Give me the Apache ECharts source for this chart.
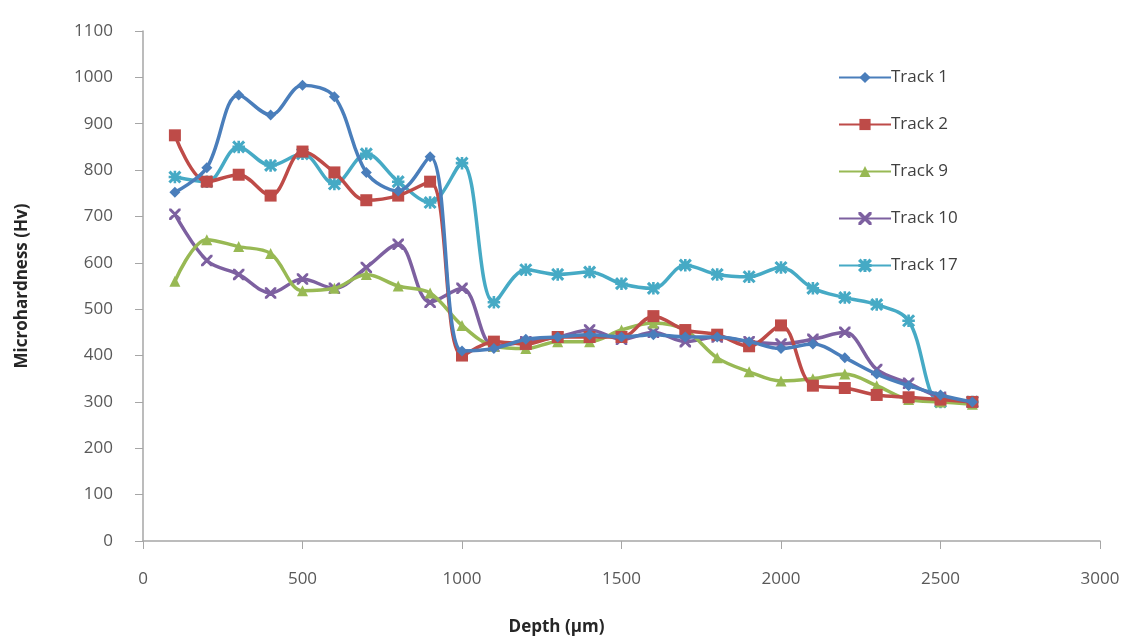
<!DOCTYPE html>
<html>
<head>
<meta charset="utf-8">
<script src="https://cdn.jsdelivr.net/npm/echarts@6/dist/echarts.min.js"></script>
<style>html,body{margin:0;padding:0;background:#fff}#c{width:1137px;height:641px}</style>
</head>
<body>
<div id="c"></div>
<script>
const depths = [100,200,300,400,500,600,700,800,900,1000,1100,1200,1300,1400,1500,1600,1700,1800,1900,2000,2100,2200,2300,2400,2500,2600];
const track1  = [752,805,962,919,983,958,795,755,829,410,415,435,440,445,440,445,440,440,430,415,425,395,360,335,315,300];
const track2  = [875,775,790,745,840,795,735,745,775,400,430,425,440,440,440,485,455,445,420,465,335,330,315,310,305,300];
const track9  = [560,650,635,620,540,545,575,550,535,465,420,415,430,430,455,470,455,395,365,345,350,360,335,305,300,295];
const track10 = [705,605,575,535,565,545,590,640,515,545,420,430,440,455,435,450,430,440,430,425,435,450,370,340,310,300];
const track17 = [785,775,850,810,835,770,835,775,730,815,515,585,575,580,555,545,595,575,570,590,545,525,510,475,300,300];
const seriesNames = ['Track 1','Track 2','Track 9','Track 10','Track 17'];
const yTicks = [0,100,200,300,400,500,600,700,800,900,1000,1100];
const xTicks = [0,500,1000,1500,2000,2500,3000];

const colors = ['#4A7EBB','#BE4B48','#98B954','#7D60A0','#46AAC5'];
const xSym = 'path://M0,0L1,0L10,9L10,10L9,10L0,1ZM10,0L10,1L1,10L0,10L0,9L9,0Z';
const starSym = 'path://M4.5,0L5.5,0L5.5,4.5L10,4.5L10,5.5L5.5,5.5L5.5,10L4.5,10L4.5,5.5L0,5.5L0,4.5L4.5,4.5ZM1,0L10,9L9,10L0,1ZM9,0L10,1L1,10L0,9Z';
const symbols = ['diamond','rect','triangle',xSym,starSym];
const sizes = [11,12,11,10,11];
const data = [track1,track2,track9,track10,track17];
const FONT = 'Open Sans, DejaVu Sans, sans-serif';

const chart = echarts.init(document.getElementById('c'), null, {renderer:'canvas'});
chart.setOption({
  backgroundColor:'#ffffff',
  animation:false,
  grid:{left:143,right:37,top:31,bottom:89,containLabel:false},
  legend:{
    orient:'vertical', left:833, top:64, itemGap:30, itemWidth:52, itemHeight:14,
    textStyle:{fontFamily:FONT,fontSize:17,color:'#404040',padding:[0,0,0,-5]},
    data:seriesNames
  },
  xAxis:{
    type:'value', min:0, max:3000, interval:500,
    name:'Depth (µm)', nameLocation:'middle', nameGap:78,
    nameTextStyle:{fontFamily:FONT,fontSize:17,fontWeight:'bold',color:'#262626',padding:[0,130,0,0]},
    axisLine:{lineStyle:{color:'#a6a6a6',width:1.5}},
    axisTick:{show:true,inside:false,length:8,lineStyle:{color:'#a6a6a6'}},
    axisLabel:{margin:30,fontFamily:FONT,fontSize:17,color:'#595959',formatter:v=>String(v)},
    splitLine:{show:false}
  },
  yAxis:{
    type:'value', min:0, max:1100, interval:100,
    name:'Microhardness (Hv)', nameLocation:'middle', nameGap:112, nameRotate:90,
    nameTextStyle:{fontFamily:FONT,fontSize:17,fontWeight:'bold',color:'#262626'},
    axisLine:{show:true,lineStyle:{color:'#a6a6a6',width:1.5}},
    axisTick:{show:true,inside:false,length:8,lineStyle:{color:'#a6a6a6'}},
    axisLabel:{margin:30,fontFamily:FONT,fontSize:17,color:'#595959',formatter:v=>String(v)},
    splitLine:{show:false}
  },
  series: seriesNames.map((n,i)=>({
    name:n, type:'line', smooth:0.35,
    data: depths.map((d,j)=>[d,data[i][j]]),
    symbol:symbols[i], symbolSize:sizes[i], showAllSymbol:true,
    lineStyle:{color:colors[i],width:3.5},
    itemStyle:{color:colors[i],borderColor:colors[i],borderWidth:(i>=3?1.5:0)},
    z:10-i
  }))
});
</script>
</body>
</html>
